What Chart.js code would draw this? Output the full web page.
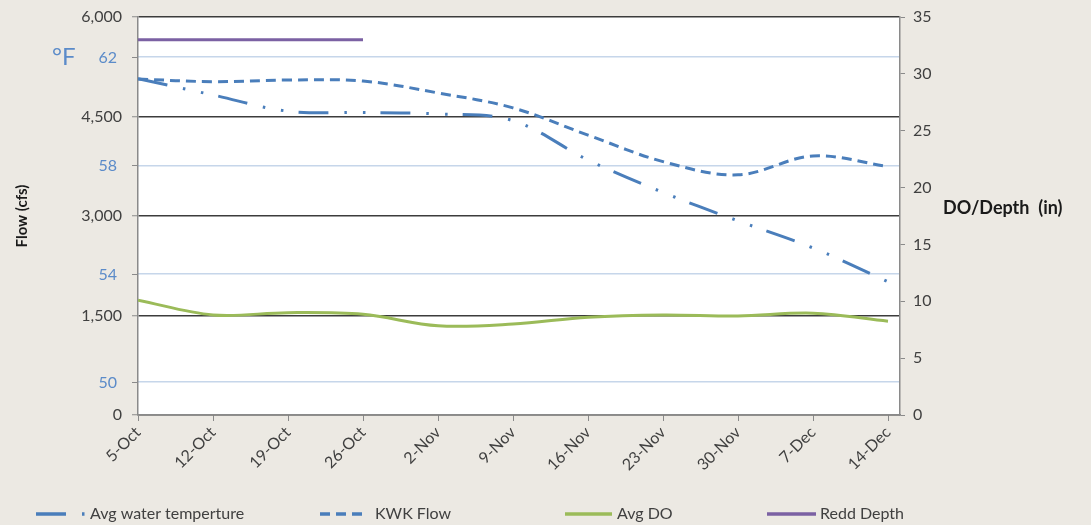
<!DOCTYPE html>
<html>
<head>
<meta charset="utf-8">
<script src="https://cdn.jsdelivr.net/npm/chart.js@4.4.1/dist/chart.umd.min.js"></script>
<style>
  html, body { margin: 0; padding: 0; background: #ECE9E3; }
  #wrap { position: relative; width: 1091px; height: 525px; }
  canvas { display: block; }
</style>
</head>
<body>
<div id="wrap"><canvas id="c" width="1091" height="525"></canvas></div>
<script>
const categories = ['5-Oct','12-Oct','19-Oct','26-Oct','2-Nov','9-Nov','16-Nov','23-Nov','30-Nov','7-Dec','14-Dec'];
const avgWaterTemp = [61.2, 60.6, 60.0, 59.95, 59.9, 59.65, 58.2, 57.0, 55.95, 54.95, 53.7];
const kwkFlow = [5065, 5025, 5050, 5035, 4855, 4630, 4220, 3820, 3620, 3905, 3745];
const avgDO = [10.1, 8.8, 9.0, 8.85, 7.85, 8.0, 8.6, 8.8, 8.7, 8.95, 8.25];
const reddDepth = [33, 33, 33, 33, null, null, null, null, null, null, null];
const flowTicks = [0, 1500, 3000, 4500, 6000];
const tempTicks = [50, 54, 58, 62];
const depthTicks = [0, 5, 10, 15, 20, 25, 30, 35];
const seriesNames = ['Avg water temperture', 'KWK Flow', 'Avg DO', 'Redd Depth'];

const BLUE = '#4A7EBB', GREEN = '#9BBB59', PURPLE = '#7B61A3', TEMPBLUE = '#5B8BC9';
const FONT = 'Lato, "Open Sans", sans-serif';
const TEXT = '#404040';
const AXIS = '#8a8a8a';

const toXY = arr => arr.map((v, i) => ({ x: i, y: v }));
const noPad = s => { s.paddingTop = 0; s.paddingBottom = 0; };

const whitePlot = {
  id: 'whitePlot',
  beforeDraw(chart) {
    const { ctx, chartArea: a } = chart;
    ctx.save();
    ctx.fillStyle = '#ffffff';
    ctx.fillRect(a.left, a.top, a.right - a.left, a.bottom - a.top);
    ctx.restore();
  }
};

const extras = {
  id: 'extras',
  afterDraw(chart) {
    const { ctx, chartArea: a } = chart;
    const t = chart.scales.temp;
    ctx.save();
    // temperature tick marks and labels (placed by the temp scale)
    ctx.strokeStyle = AXIS;
    ctx.lineWidth = 1;
    ctx.fillStyle = TEMPBLUE;
    ctx.font = '16px ' + FONT;
    ctx.textAlign = 'right';
    ctx.textBaseline = 'middle';
    tempTicks.forEach(v => {
      const y = Math.round(t.getPixelForValue(v)) + 0.5;
      ctx.beginPath();
      ctx.moveTo(a.left - 6, y);
      ctx.lineTo(a.left, y);
      ctx.stroke();
      ctx.fillText(String(v), a.left - 21, y);
    });
    ctx.textAlign = 'left';
    ctx.font = '24px ' + FONT;
    ctx.fillText('°F', 52, t.getPixelForValue(tempTicks[tempTicks.length - 1]));
    // right axis title (horizontal)
    ctx.fillStyle = '#1a1a1a';
    ctx.font = 'bold 18px ' + FONT;
    ctx.fillText('DO/Depth  (in)', 943, 208);
    // legend
    const ds = chart.data.datasets;
    const ly = 514;
    const items = [
      { x0: 36, x1: 88, tx: 90 },
      { x0: 320, x1: 362, tx: 375 },
      { x0: 565, x1: 612, tx: 617 },
      { x0: 767, x1: 816, tx: 820 }
    ];
    ds.forEach((d, i) => {
      const it = items[i];
      ctx.beginPath();
      ctx.strokeStyle = d.borderColor;
      ctx.lineWidth = 3.5;
      ctx.setLineDash(d.borderDash || []);
      ctx.moveTo(it.x0, ly);
      ctx.lineTo(it.x1, ly);
      ctx.stroke();
      ctx.setLineDash([]);
      ctx.fillStyle = TEXT;
      ctx.font = '16px ' + FONT;
      ctx.textAlign = 'left';
      ctx.textBaseline = 'middle';
      ctx.fillText(d.label, it.tx, ly);
    });
    ctx.restore();
  }
};

new Chart(document.getElementById('c'), {
  type: 'line',
  data: {
    datasets: [
      {
        label: seriesNames[0], data: toXY(avgWaterTemp), yAxisID: 'temp',
        borderColor: BLUE, borderWidth: 3, borderDash: [30, 16, 2.5, 16, 2.5, 15],
        tension: 0.35, pointRadius: 0, fill: false
      },
      {
        label: seriesNames[1], data: toXY(kwkFlow), yAxisID: 'flow',
        borderColor: BLUE, borderWidth: 3, borderDash: [10, 6],
        tension: 0.35, pointRadius: 0, fill: false
      },
      {
        label: seriesNames[2], data: toXY(avgDO), yAxisID: 'do',
        borderColor: GREEN, borderWidth: 3,
        tension: 0.35, pointRadius: 0, fill: false
      },
      {
        label: seriesNames[3], data: toXY(reddDepth), yAxisID: 'do',
        borderColor: PURPLE, borderWidth: 3,
        tension: 0, pointRadius: 0, fill: false
      }
    ]
  },
  options: {
    responsive: false,
    animation: false,
    events: [],
    layout: { padding: { left: 0, right: 0, top: 17, bottom: 0 } },
    plugins: { legend: { display: false }, tooltip: { enabled: false }, title: { display: false } },
    scales: {
      x: {
        type: 'linear', position: 'bottom',
        min: 0, max: (categories.length - 1) * 762 / 750,
        afterBuildTicks: s => { s.ticks = categories.map((c, i) => ({ value: i })); },
        afterFit: s => { s.height = 110; s.paddingLeft = 0; s.paddingRight = 0; },
        ticks: {
          callback: v => categories[v],
          minRotation: 45, maxRotation: 45, autoSkip: false,
          color: TEXT, font: { family: FONT, size: 16 }, padding: 2
        },
        grid: { drawOnChartArea: false, drawTicks: true, tickLength: 6, color: AXIS, tickColor: AXIS },
        border: { color: AXIS, width: 1.5 }
      },
      flow: {
        type: 'linear', position: 'left', weight: 1,
        min: 0, max: 6000,
        afterBuildTicks: s => { s.ticks = flowTicks.map(v => ({ value: v })); },
        afterFit: s => { s.width = 138; noPad(s); },
        ticks: {
          callback: v => v.toLocaleString('en-US'),
          color: TEXT, font: { family: FONT, size: 16 }, padding: 10
        },
        grid: { color: '#3c3c3c', lineWidth: 1.5, tickLength: 6, tickColor: AXIS, tickWidth: 1 },
        border: { color: AXIS, width: 1.5 },
        title: {
          display: true, text: 'Flow (cfs)', color: '#1a1a1a',
          font: { family: FONT, size: 15, weight: 'bold' }, padding: { top: 13, bottom: 0 }
        }
      },
      temp: {
        type: 'linear', position: 'left', weight: 0,
        min: 48.78, max: 63.48,
        afterBuildTicks: s => { s.ticks = tempTicks.map(v => ({ value: v })); },
        afterFit: s => { s.width = 0; noPad(s); },
        ticks: { display: false },
        grid: { color: '#C6D6EA', lineWidth: 1.5, drawTicks: false },
        border: { display: false }
      },
      do: {
        type: 'linear', position: 'right',
        min: 0, max: 35,
        afterBuildTicks: s => { s.ticks = depthTicks.map(v => ({ value: v })); },
        afterFit: s => { s.width = 191; noPad(s); },
        ticks: {
          color: TEXT, font: { family: FONT, size: 16 }, padding: 8
        },
        grid: { drawOnChartArea: false, tickLength: 5, tickColor: AXIS },
        border: { color: AXIS, width: 1.5 }
      }
    }
  },
  plugins: [whitePlot, extras]
});
</script>
</body>
</html>
